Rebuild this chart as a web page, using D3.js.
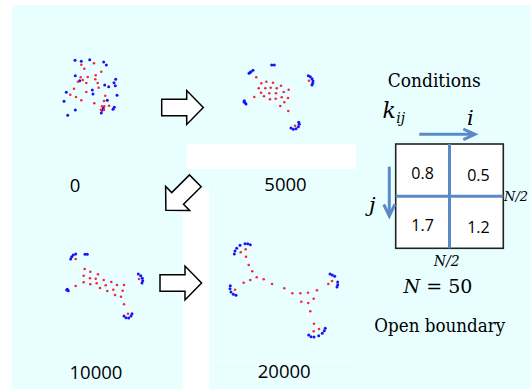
<!DOCTYPE html>
<html>
<head>
<meta charset="utf-8">
<script src="https://cdn.jsdelivr.net/npm/d3@7"></script>
<style>
  body { margin: 0; background: #fff; }
  svg { display: block; }
</style>
</head>
<body>
<svg id="chart"></svg>
<script>
// snapshot labels (simulation steps)
const steps = ["0", "5000", "10000", "20000"];

const red0 = [[21.3,9.7],[34,8.3],[24.3,13.7],[41.3,16.7],[35.7,20.3],[20.7,22.3],[27.7,22],[35.3,24.3],[22.7,25],[18,26.7],[26.3,28],[37.7,28],[14,33.7],[38.7,32.7],[26.3,37],[10.3,39.7],[45.3,40.7],[16,42],[21.3,45.3],[44,46],[34.3,48.3],[42,51.3],[44.3,51.3],[49,50.7],[41,54.7],[44,55]];
const blue0 = [[15,5.3],[21.3,6.3],[29.7,4.7],[43.7,7],[46.3,10],[15.3,20.7],[19.7,25.7],[55.7,24.3],[54,27.7],[55.3,30.7],[44.7,30],[48.7,31.7],[32.3,35],[6.3,37.3],[33,39],[57,40.3],[4,46.3],[47.3,45.3],[43.3,53],[42,55.3],[54.3,52.3],[53,54.3],[41.3,58],[15.3,55],[7.7,60.3]];

const red1 = [[69,25.7],[16.3,22.3],[21.3,28.3],[26.3,26.7],[33,27.7],[41,30.7],[18.7,33.3],[25.3,33.3],[30.7,32.7],[36.7,33.3],[48.7,34.7],[21,37.7],[29.3,38.3],[36,38.3],[43.7,37],[14.3,42],[24,41.3],[30,44.3],[35.7,43.7],[41.7,42.3],[48,43],[44.3,47.3],[40.3,51],[48.3,56],[55,70.7]];
const blue1 = [[9,18.3],[10,17.5],[11,16.7],[13,15.3],[31.7,10],[34.3,10],[68.3,20.7],[70.3,21.7],[72,23.7],[73,26],[72.7,28.3],[72,30],[4.3,45.7],[5,47.7],[6,49],[4,46.7],[51,73],[53.3,74.3],[56,73.7],[58.3,71.7],[59.3,69.3],[58.7,67.3]];

const red2 = [[15.7,14],[24.7,24],[30.3,26.7],[38,29.3],[23.7,30.7],[30,33.3],[35.7,33.7],[43.7,35],[51.3,37],[23.7,37.3],[30.3,39.3],[36.7,38.3],[45.7,40.3],[57,40],[64,40],[15.7,41],[40,43],[53.3,44.7],[47.3,46],[62.7,45.7],[55,50],[61,51.7],[64,59.3],[68,68.7],[79,34]];
const blue2 = [[10.7,14],[11.7,11.7],[13.3,10],[15.7,9],[25,9.3],[27.3,9.3],[78.3,29],[80.7,30.7],[82.3,33.3],[82.7,35.7],[82,38],[7.3,44.3],[8.3,45.7],[6.7,45],[64,71],[66,72.7],[68.7,73],[71,71],[72,68.7]];

const red3 = [[15.7,17.3],[20.7,14.3],[21,21.7],[23.7,30],[27.3,36.3],[31.7,42.3],[38.7,44.3],[25.3,45],[18.7,47.7],[10,54.7],[47,49],[59.3,53.3],[67.3,58.3],[75.3,58.3],[83,57.7],[92,55.3],[103.3,49],[107,46],[88.7,63.7],[76.3,66.7],[83.3,68],[85.3,76.3],[89,88.7],[94,94],[88.7,96.3]];
const blue3 = [[9.3,19],[10,16],[11.7,13.3],[15,10.3],[20,8.7],[22.7,8.7],[25.3,9.7],[5.3,50.7],[5,53.7],[6,57],[8.3,59.3],[11,60.3],[105,39],[107.3,40],[109.7,41.3],[112.7,47],[112.7,49.7],[112,52],[83.7,100],[86,101.7],[89,102],[93.7,100.7],[97.3,98.3],[99.3,95.7],[100.3,93.3]];

// coupling matrix k_ij
const kRows = ["top", "bottom"];
const kCols = ["left", "right"];
const kValues = [[0.8, 0.5], [1.7, 1.2]];

const W = 531, H = 389;
const bg = "#e9ffff", redCol = "#f5283f", blueCol = "#1414f5", lineBlue = "#5a8ac6";
const serif = "DejaVu Serif";

const svg = d3.select("#chart").attr("width", W).attr("height", H);

// background + white patches of the slide
svg.append("rect").attr("x", 12).attr("y", 5).attr("width", W - 12).attr("height", H - 5).attr("fill", bg);
svg.append("rect").attr("x", 187).attr("y", 144).attr("width", 169).attr("height", 25).attr("fill", "#fff");
svg.append("rect").attr("x", 183).attr("y", 189).attr("width", 26).attr("height", H - 189).attr("fill", "#fff");
svg.append("line").attr("x1", 209).attr("x2", 353).attr("y1", 361.5).attr("y2", 361.5)
  .attr("stroke", "#f4ffff").attr("stroke-width", 1);

// snapshot panels
const panels = [
  { red: red0, blue: blue0, ox: 60, oy: 55, lx: 75, ly: 191.5 },
  { red: red1, blue: blue1, ox: 240, oy: 55, lx: 285.5, ly: 190.7 },
  { red: red2, blue: blue2, ox: 60, oy: 245, lx: 96, ly: 379 },
  { red: red3, blue: blue3, ox: 225, oy: 235, lx: 284.2, ly: 377.7 }
];

panels.forEach((p, k) => {
  const x = d3.scaleLinear().domain([0, 120]).range([p.ox, p.ox + 120]);
  const y = d3.scaleLinear().domain([0, 110]).range([p.oy, p.oy + 110]);
  const g = svg.append("g");
  g.selectAll("circle.b").data(p.blue).enter().append("circle")
    .attr("class", "b")
    .attr("cx", d => x(d[0])).attr("cy", d => y(d[1])).attr("r", 1.5)
    .attr("fill", blueCol);
  g.selectAll("circle.r").data(p.red).enter().append("circle")
    .attr("class", "r")
    .attr("cx", d => x(d[0])).attr("cy", d => y(d[1])).attr("r", 1.3)
    .attr("fill", redCol);
  svg.append("text")
    .attr("x", p.lx).attr("y", p.ly)
    .attr("text-anchor", "middle")
    .attr("font-family", "'Open Sans', sans-serif")
    .attr("font-size", "18.5px")
    .attr("fill", "#000")
    .text(steps[k]);
});

// block arrows between snapshots
const arrowPts = [[-20.8,-8.3],[4.2,-8.3],[4.2,-17],[20.8,0],[4.2,17],[4.2,8.3],[-20.8,8.3]];
const arrowPath = d3.line()(arrowPts) + "Z";
[
  { cx: 182.5, cy: 107.5, rot: 0 },
  { cx: 180.6, cy: 195.5, rot: 135 },
  { cx: 180.8, cy: 283, rot: 0 }
].forEach(a => {
  svg.append("path")
    .attr("d", arrowPath)
    .attr("transform", `translate(${a.cx},${a.cy}) rotate(${a.rot})`)
    .attr("fill", "#fff")
    .attr("stroke", "#000")
    .attr("stroke-width", 1.5)
    .attr("stroke-linejoin", "miter");
});

// conditions panel
svg.append("text").attr("x", 387.7).attr("y", 86.7)
  .style("font-family", serif).attr("font-size", "19px")
  .attr("textLength", 93).attr("lengthAdjust", "spacingAndGlyphs").text("Conditions");

const kt = svg.append("text").attr("x", 382.5).attr("y", 118.3)
  .style("font-family", serif).attr("font-style", "italic").attr("font-size", "22px");
kt.append("tspan").text("k");
kt.append("tspan").attr("font-size", "14px").attr("dy", 4.5).attr("dx", 0.5).text("ij");

const xb = d3.scaleBand().domain(kCols).range([395.7, 503.3]);
const yb = d3.scaleBand().domain(kRows).range([144, 248.3]);

const mat = svg.append("g");
mat.append("rect")
  .attr("x", xb.range()[0]).attr("y", yb.range()[0])
  .attr("width", xb.range()[1] - xb.range()[0]).attr("height", yb.range()[1] - yb.range()[0])
  .attr("fill", "#fff").attr("stroke", "#222").attr("stroke-width", 1.6);

kValues.forEach((row, r) => {
  row.forEach((v, c) => {
    mat.append("text")
      .attr("x", xb(kCols[c]) + xb.bandwidth() / 2 + (c === 1 ? 2 : 0))
      .attr("y", yb(kRows[r]) + yb.bandwidth() / 2 + 9 + (c === 1 ? 1.5 : 0))
      .attr("text-anchor", "middle")
      .attr("font-family", "'Open Sans', sans-serif")
      .attr("font-size", "16px")
      .text(v.toFixed(1));
  });
});

// split lines at N/2
mat.append("line")
  .attr("x1", xb("right")).attr("x2", xb("right"))
  .attr("y1", yb.range()[0]).attr("y2", yb.range()[1])
  .attr("stroke", lineBlue).attr("stroke-width", 3);
mat.append("line")
  .attr("x1", xb.range()[0]).attr("x2", xb.range()[1])
  .attr("y1", yb("bottom")).attr("y2", yb("bottom"))
  .attr("stroke", lineBlue).attr("stroke-width", 3);

// i and j direction arrows
const arr = svg.append("g").attr("stroke", lineBlue).attr("stroke-width", 3).attr("fill", "none");
arr.append("line").attr("x1", 419.3).attr("x2", 474).attr("y1", 134.3).attr("y2", 134.3);
arr.append("path").attr("d", "M463.3,129 L475,134.3 L463.3,139.6");
arr.append("line").attr("x1", 389.3).attr("x2", 389.3).attr("y1", 166.7).attr("y2", 215);
arr.append("path").attr("d", "M383.8,204.5 L389.3,216 L394.8,204.5");

svg.append("text").attr("x", 467).attr("y", 125).style("font-family", serif)
  .attr("font-style", "italic").attr("font-size", "21px").text("i");
svg.append("text").attr("x", 369).attr("y", 211.7).style("font-family", serif)
  .attr("font-style", "italic").attr("font-size", "21px").text("j");

svg.append("text").attr("x", 504).attr("y", 201.3).style("font-family", serif)
  .attr("font-style", "italic").attr("font-size", "13px").text("N/2");
svg.append("text").attr("x", 446.7).attr("y", 265.7).attr("text-anchor", "middle").style("font-family", serif)
  .attr("font-style", "italic").attr("font-size", "14px").text("N/2");

const nt = svg.append("text").attr("x", 438).attr("y", 293.3).attr("text-anchor", "middle")
  .style("font-family", serif).attr("font-size", "19px");
nt.append("tspan").attr("font-style", "italic").text("N");
nt.append("tspan").text(" = 50");

svg.append("text").attr("x", 374.3).attr("y", 331.7)
  .style("font-family", serif).attr("font-size", "19px")
  .attr("textLength", 131).attr("lengthAdjust", "spacingAndGlyphs").text("Open boundary");
</script>
</body>
</html>
